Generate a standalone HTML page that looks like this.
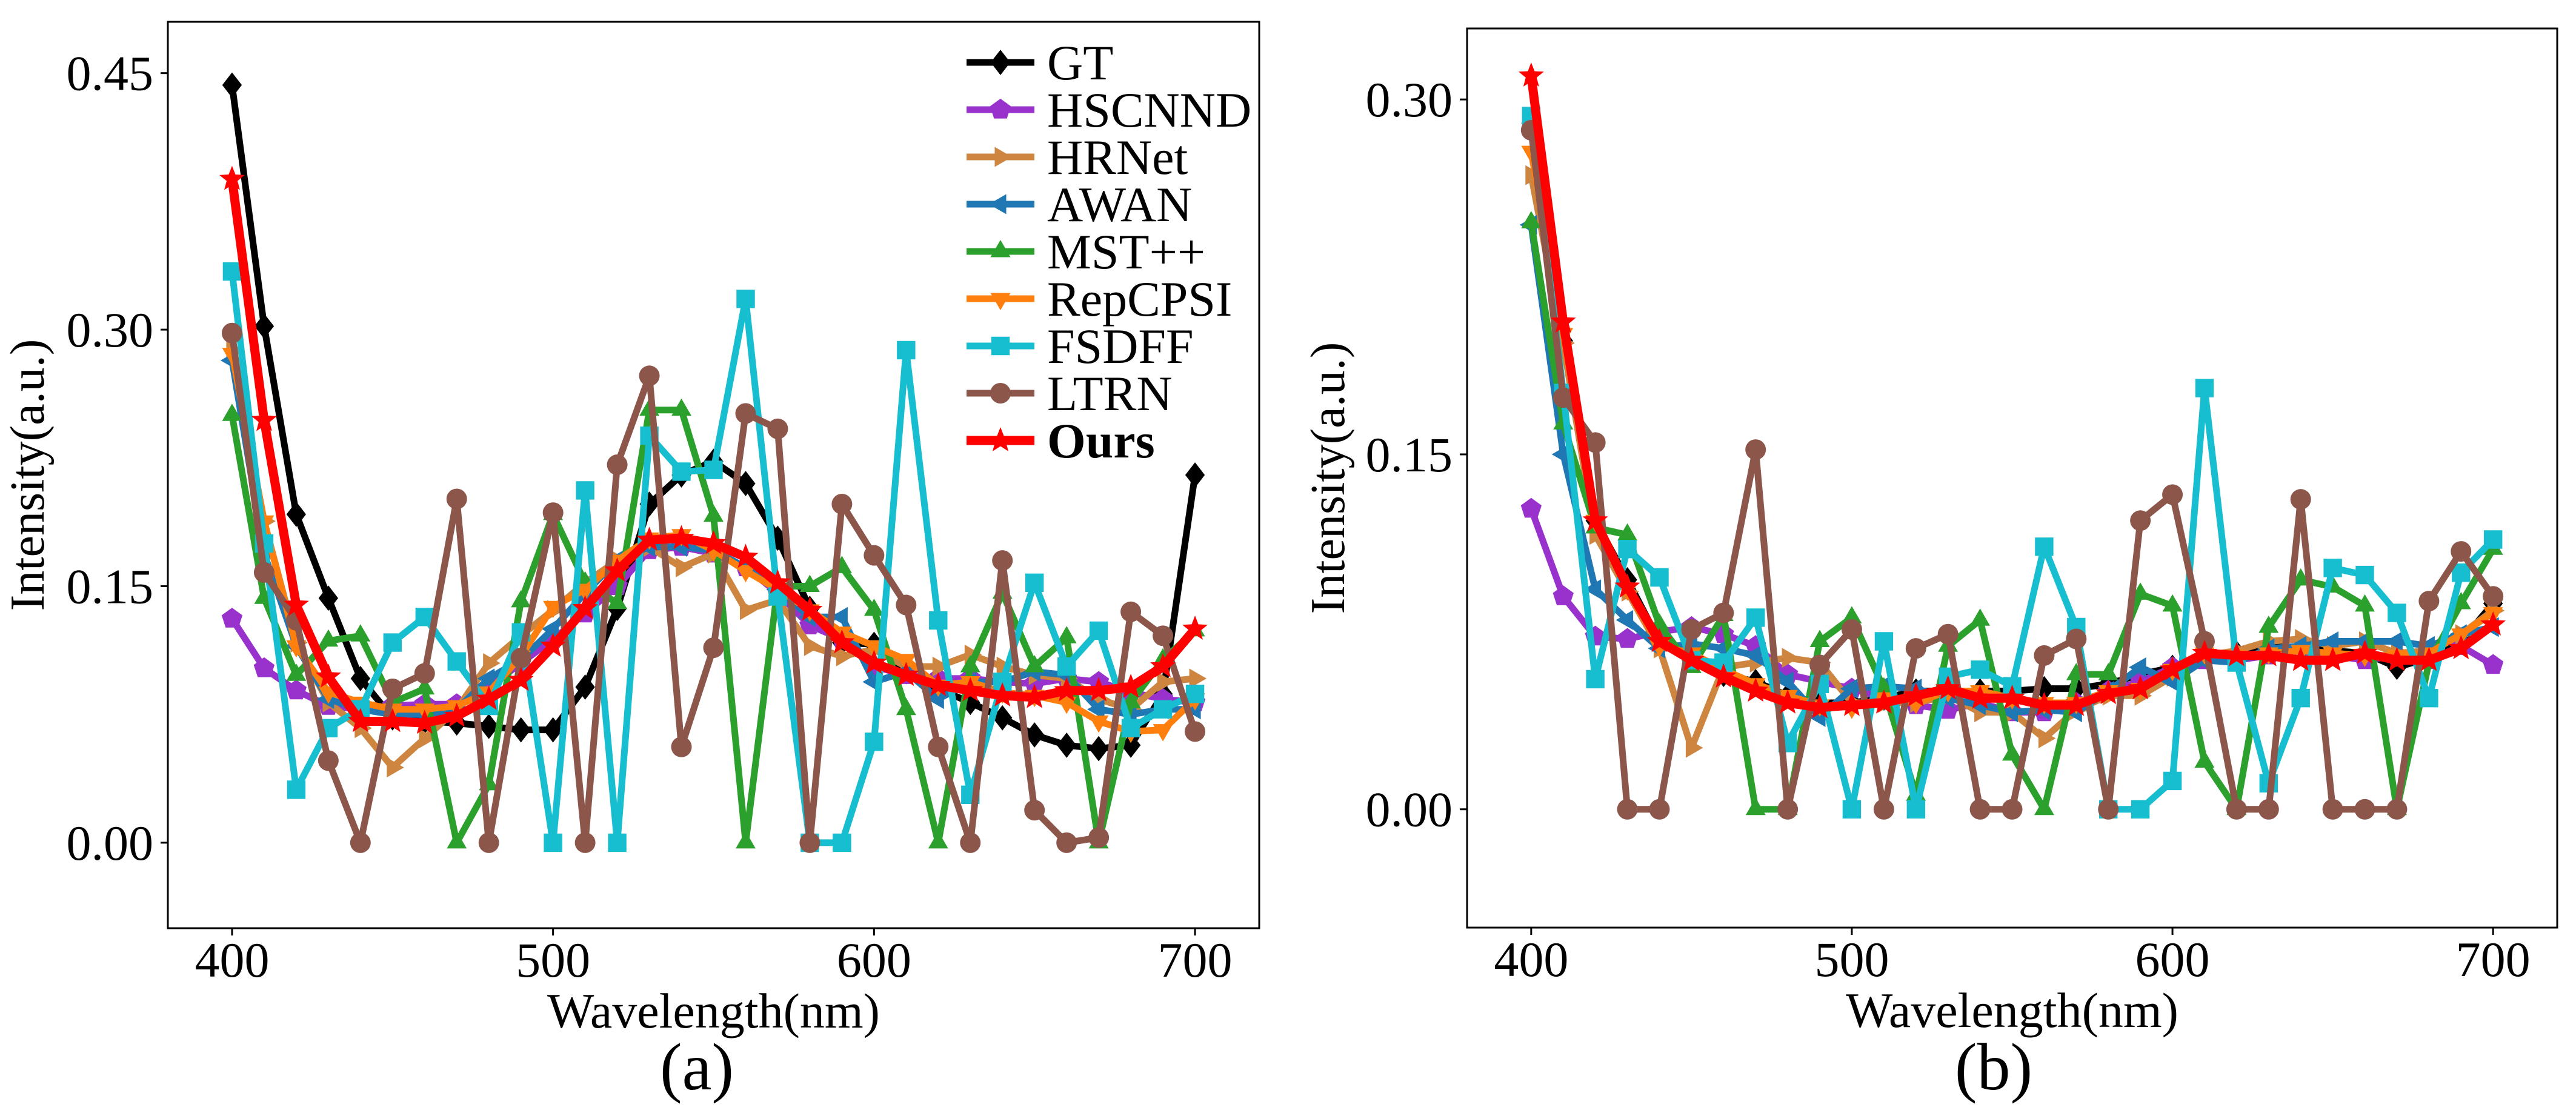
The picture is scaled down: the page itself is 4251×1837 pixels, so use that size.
<!DOCTYPE html>
<html><head><meta charset="utf-8">
<style>
html,body{margin:0;padding:0;background:#fff;}
svg{display:block;font-family:"Liberation Serif","DejaVu Serif",serif;}
text{font-family:"Liberation Serif","DejaVu Serif",serif;fill:#000;}
</style></head>
<body>
<svg id="fig" width="4251" height="1837" viewBox="0 0 4251 1837" xmlns="http://www.w3.org/2000/svg">
<rect width="4251" height="1837" fill="#fff"/>
</svg>
<script>
const wavelengths = [400,410,420,430,440,450,460,470,480,490,500,510,520,530,540,550,560,570,580,590,600,610,620,630,640,650,660,670,680,690,700];
const xTicks = [400,500,600,700];
const yTicksA = [0.00,0.15,0.30,0.45];
const yTicksB = [0.00,0.15,0.30];
const seriesNames = ["GT","HSCNND","HRNet","AWAN","MST++","RepCPSI","FSDFF","LTRN","Ours"];

const gtA = [0.443,0.302,0.192,0.143,0.096,0.073,0.071,0.070,0.068,0.066,0.066,0.091,0.137,0.198,0.215,0.223,0.210,0.178,0.137,0.117,0.116,0.100,0.090,0.082,0.073,0.063,0.057,0.055,0.057,0.087,0.215];
const hscnndA = [0.131,0.102,0.089,0.080,0.078,0.080,0.081,0.081,0.091,0.105,0.119,0.134,0.150,0.171,0.173,0.169,0.161,0.146,0.127,0.119,0.103,0.098,0.096,0.096,0.094,0.093,0.096,0.094,0.088,0.084,0.082];
const hrnetA = [0.288,0.188,0.117,0.082,0.067,0.044,0.061,0.078,0.105,0.121,0.136,0.152,0.165,0.173,0.161,0.169,0.136,0.142,0.115,0.109,0.113,0.103,0.103,0.110,0.103,0.098,0.096,0.084,0.078,0.094,0.096];
const awanA = [0.282,0.169,0.115,0.084,0.078,0.075,0.075,0.078,0.096,0.107,0.125,0.146,0.165,0.173,0.173,0.171,0.161,0.148,0.132,0.132,0.094,0.100,0.084,0.094,0.094,0.100,0.098,0.078,0.075,0.078,0.078];
const mstA = [0.250,0.143,0.098,0.118,0.121,0.082,0.090,0.000,0.034,0.141,0.192,0.152,0.140,0.253,0.253,0.191,0.000,0.150,0.150,0.161,0.136,0.078,0.000,0.103,0.146,0.103,0.120,0.000,0.082,0.107,0.124];
const repA = [0.286,0.188,0.115,0.088,0.082,0.078,0.078,0.080,0.088,0.109,0.138,0.148,0.165,0.178,0.180,0.171,0.159,0.148,0.136,0.123,0.115,0.107,0.092,0.094,0.088,0.086,0.082,0.071,0.065,0.066,0.084];
const fsdffA = [0.334,0.175,0.031,0.067,0.078,0.117,0.132,0.106,0.080,0.123,0.000,0.206,0.000,0.238,0.217,0.218,0.318,0.144,0.000,0.000,0.059,0.288,0.130,0.028,0.094,0.152,0.103,0.124,0.067,0.078,0.087];
const ltrnA = [0.298,0.158,0.130,0.048,0.000,0.090,0.099,0.201,0.000,0.108,0.193,0.000,0.221,0.273,0.056,0.114,0.251,0.242,0.000,0.198,0.168,0.139,0.056,0.000,0.165,0.019,0.000,0.003,0.135,0.121,0.065];
const oursA = [0.388,0.247,0.139,0.097,0.071,0.071,0.070,0.074,0.084,0.095,0.115,0.137,0.159,0.177,0.178,0.175,0.167,0.152,0.136,0.117,0.105,0.098,0.092,0.089,0.086,0.085,0.089,0.089,0.091,0.103,0.125];

const gtB = [0.290,0.198,0.122,0.097,0.071,0.063,0.057,0.054,0.048,0.045,0.045,0.047,0.050,0.050,0.050,0.050,0.051,0.051,0.053,0.057,0.060,0.065,0.066,0.069,0.068,0.067,0.066,0.060,0.064,0.071,0.087];
const hscnndB = [0.127,0.090,0.073,0.072,0.075,0.077,0.074,0.069,0.057,0.054,0.051,0.047,0.044,0.042,0.045,0.041,0.041,0.045,0.050,0.054,0.060,0.063,0.063,0.065,0.066,0.065,0.063,0.065,0.063,0.069,0.061];
const hrnetB = [0.268,0.197,0.116,0.092,0.068,0.026,0.060,0.062,0.064,0.062,0.045,0.045,0.045,0.048,0.041,0.041,0.030,0.042,0.048,0.048,0.056,0.065,0.067,0.071,0.072,0.069,0.071,0.066,0.067,0.074,0.084];
const awanB = [0.247,0.150,0.093,0.080,0.068,0.070,0.068,0.065,0.054,0.039,0.051,0.052,0.051,0.047,0.044,0.041,0.042,0.041,0.050,0.060,0.054,0.063,0.062,0.068,0.069,0.071,0.071,0.071,0.069,0.074,0.077];
const mstB = [0.248,0.163,0.119,0.116,0.078,0.060,0.082,0.000,0.000,0.071,0.081,0.051,0.006,0.069,0.080,0.023,0.000,0.057,0.057,0.091,0.086,0.020,0.000,0.077,0.097,0.094,0.086,0.000,0.062,0.087,0.110];
const repB = [0.278,0.201,0.122,0.093,0.069,0.066,0.059,0.053,0.048,0.044,0.043,0.047,0.045,0.050,0.050,0.047,0.045,0.045,0.050,0.051,0.059,0.066,0.065,0.066,0.067,0.066,0.065,0.065,0.066,0.074,0.083];
const fsdffB = [0.293,0.176,0.055,0.110,0.098,0.063,0.062,0.081,0.028,0.053,0.000,0.071,0.000,0.056,0.059,0.052,0.111,0.077,0.000,0.000,0.012,0.178,0.062,0.011,0.047,0.102,0.099,0.083,0.047,0.100,0.114];
const ltrnB = [0.287,0.174,0.155,0.000,0.000,0.076,0.083,0.152,0.000,0.061,0.076,0.000,0.068,0.074,0.000,0.000,0.065,0.072,0.000,0.122,0.133,0.071,0.000,0.000,0.131,0.000,0.000,0.000,0.088,0.109,0.090];
const oursB = [0.310,0.206,0.122,0.094,0.071,0.063,0.056,0.050,0.045,0.043,0.044,0.045,0.048,0.051,0.047,0.047,0.044,0.044,0.049,0.051,0.059,0.066,0.065,0.065,0.063,0.063,0.066,0.063,0.063,0.068,0.078];

const NS = "http://www.w3.org/2000/svg";
const svg = document.getElementById('fig');
function mk(tag, attrs, parent){
  const e = document.createElementNS(NS, tag);
  for (const k in attrs) e.setAttribute(k, attrs[k]);
  (parent||svg).appendChild(e);
  return e;
}
const styles = [
  {color:"#000000", marker:"diamond", lw:11},
  {color:"#9932CC", marker:"pentagon", lw:11},
  {color:"#CD853F", marker:"tri-right", lw:11},
  {color:"#1f77b4", marker:"tri-left", lw:11},
  {color:"#2ca02c", marker:"tri-up", lw:11},
  {color:"#ff7f0e", marker:"tri-down", lw:11},
  {color:"#17becf", marker:"square", lw:11},
  {color:"#8c564b", marker:"circle", lw:11},
  {color:"#ff0000", marker:"star", lw:15}
];
function markerPath(type, cx, cy, s){
  const pts = [];
  function poly(n, r, rot){ for(let i=0;i<n;i++){const a=rot+i*2*Math.PI/n; pts.push([cx+r*Math.cos(a), cy+r*Math.sin(a)]);} }
  if (type==="diamond"){ pts.push([cx,cy-s*1.1],[cx+s*0.85,cy],[cx,cy+s*1.1],[cx-s*0.85,cy]); }
  else if (type==="pentagon"){ poly(5,s*0.95,-Math.PI/2); }
  else if (type==="tri-up"){ poly(3,s,-Math.PI/2); }
  else if (type==="tri-down"){ poly(3,s,Math.PI/2); }
  else if (type==="tri-right"){ poly(3,s,0); }
  else if (type==="tri-left"){ poly(3,s,Math.PI); }
  else if (type==="square"){ pts.push([cx-s*0.8,cy-s*0.8],[cx+s*0.8,cy-s*0.8],[cx+s*0.8,cy+s*0.8],[cx-s*0.8,cy+s*0.8]); }
  else if (type==="star"){ for(let i=0;i<10;i++){const a=-Math.PI/2+i*Math.PI/5; const r=i%2?s*0.45:s*1.05; pts.push([cx+r*Math.cos(a), cy+r*Math.sin(a)]);} }
  return "M"+pts.map(p=>p[0].toFixed(1)+","+p[1].toFixed(1)).join("L")+"Z";
}

function drawPanel(cfg){
  const g = mk('g', {});
  
  
  const xs = v => cfg.x0 + (v - 380) / 340 * (cfg.x1 - cfg.x0);
  const ys = v => cfg.y1 - (v - cfg.ymin) / (cfg.ymax - cfg.ymin) * (cfg.y1 - cfg.y0);
  const clip = mk('clipPath', {id: cfg.name+'-clip'}, g);
  mk('rect', {x:cfg.x0, y:cfg.y0, width:cfg.x1-cfg.x0, height:cfg.y1-cfg.y0}, clip);
  xTicks.forEach(t => {
    const tk = mk('line', {x1:xs(t), x2:xs(t), y1:cfg.y1, y2:cfg.y1+12, stroke:'#000','stroke-width':3}, g);
    
    
    const tl = mk('text', {x:xs(t), y:cfg.y1+80, 'text-anchor':'middle','font-size':82}, g);
    
    
    tl.textContent = String(t);
  });
  cfg.yTicks.forEach(t => {
    const tk = mk('line', {x1:cfg.x0-12, x2:cfg.x0, y1:ys(t), y2:ys(t), stroke:'#000','stroke-width':3}, g);
    
    
    const tl = mk('text', {x:cfg.x0-24, y:ys(t)+28, 'text-anchor':'end','font-size':82}, g);
    
    
    tl.textContent = t.toFixed(2);
  });
  const sg = mk('g', {'clip-path':'url(#'+cfg.name+'-clip)'}, g);
  cfg.series.forEach((arr, i) => {
    const st = styles[i];
    const d = arr.map((v,j)=>(j?'L':'M')+xs(wavelengths[j]).toFixed(1)+','+ys(v).toFixed(1)).join('');
    const ln = mk('path', {d:d, fill:'none', stroke:st.color, 'stroke-width':st.lw, 'stroke-linejoin':'round'}, sg);
    
    
    arr.forEach((v,j) => {
      const cx = xs(wavelengths[j]), cy = ys(v);
      let m;
      if (st.marker === 'circle') m = mk('circle', {cx:cx, cy:cy, r:17, fill:st.color}, sg);
      else m = mk('path', {d:markerPath(st.marker, cx, cy, st.marker==='star'?21:19), fill:st.color}, sg);
      
      
    });
  });
  const fr = mk('rect', {x:cfg.x0, y:cfg.y0, width:cfg.x1-cfg.x0, height:cfg.y1-cfg.y0, fill:'none', stroke:'#000','stroke-width':3}, g);
  
  
  const xl = mk('text', {x:(cfg.x0+cfg.x1)/2, y:cfg.y1+164, 'text-anchor':'middle','font-size':82}, g);
  
  
  xl.textContent = 'Wavelength(nm)';
  const cy = (cfg.y0+cfg.y1)/2;
  const yl = mk('text', {x:cfg.ylx, y:cy, 'text-anchor':'middle','font-size':80, transform:'rotate(-90 '+cfg.ylx+' '+cy+')'}, g);
  
  
  yl.textContent = 'Intensity(a.u.)';
  const cap = mk('text', {x:cfg.capx, y:1798, 'text-anchor':'middle','font-size':110}, g);
  
  
  cap.textContent = cfg.caption;
}

drawPanel({name:'panel-a', x0:277, x1:2078, y0:36, y1:1532, ymin:-0.05, ymax:0.48, yTicks:yTicksA, ylx:72, capx:1150, caption:'(a)',
  series:[gtA,hscnndA,hrnetA,awanA,mstA,repA,fsdffA,ltrnA,oursA]});
drawPanel({name:'panel-b', x0:2421, x1:4220, y0:47, y1:1531, ymin:-0.05, ymax:0.33, yTicks:yTicksB, ylx:2218, capx:3290, caption:'(b)',
  series:[gtB,hscnndB,hrnetB,awanB,mstB,repB,fsdffB,ltrnB,oursB]});

const leg = mk('g', {});


seriesNames.forEach((nm, i) => {
  const y = 103 + i*78;
  const st = styles[i];
  const e = mk('g', {}, leg);
  
  
  mk('line', {x1:1595, x2:1707, y1:y, y2:y, stroke:st.color, 'stroke-width':st.lw}, e);
  if (st.marker === 'circle') mk('circle', {cx:1651, cy:y, r:17, fill:st.color}, e);
  else mk('path', {d:markerPath(st.marker, 1651, y, st.marker==='star'?21:19), fill:st.color}, e);
  const t = mk('text', {x:1728, y:y+28, 'font-size':82, 'font-weight': nm==='Ours'?'bold':'normal'}, e);
  t.textContent = nm;
});
</script>
</body></html>
